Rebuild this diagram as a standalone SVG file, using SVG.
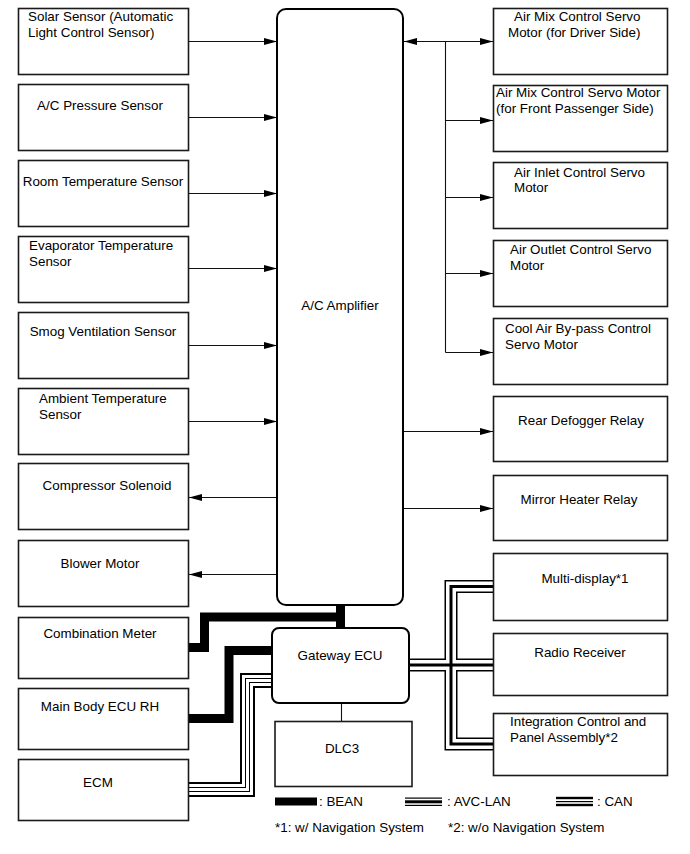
<svg xmlns="http://www.w3.org/2000/svg" width="690" height="854" viewBox="0 0 690 854">
<style>
.box{fill:#fff;stroke:#1a1a1a;stroke-width:1.6}
.amp{fill:#fff;stroke:#000;stroke-width:2}
text{font-family:"Liberation Sans",Arial,Helvetica,sans-serif;font-size:13.4px;fill:#000}
.c{text-anchor:middle}
.ln{fill:none;stroke:#111;stroke-width:1.1}
.bean{fill:none;stroke:#000;stroke-width:9;stroke-linejoin:miter}
.a1{fill:none;stroke:#000;stroke-width:13;stroke-linejoin:miter}
.a2{fill:none;stroke:#fff;stroke-width:10;stroke-linejoin:miter}
.a3{fill:none;stroke:#000;stroke-width:3;stroke-linejoin:miter}
.c1{fill:none;stroke:#000;stroke-width:15;stroke-linejoin:miter}
.c2{fill:none;stroke:#fff;stroke-width:11;stroke-linejoin:miter}
.c3{fill:none;stroke:#000;stroke-width:5;stroke-linejoin:miter}
.c4{fill:none;stroke:#fff;stroke-width:3;stroke-linejoin:miter}
</style>
<defs>
<marker id="ah" markerUnits="userSpaceOnUse" viewBox="0 0 13 7" refX="13" refY="3.5" markerWidth="13" markerHeight="7" orient="auto-start-reverse">
<path d="M0,0 L13,3.5 L0,7 z" fill="#000"/>
</marker>
</defs>

<g id="connectors">
<!-- inputs to amplifier -->
<path class="ln" d="M188,41.5 H277" marker-end="url(#ah)"/>
<path class="ln" d="M188,117.5 H277" marker-end="url(#ah)"/>
<path class="ln" d="M188,193.5 H277" marker-end="url(#ah)"/>
<path class="ln" d="M188,268.5 H277" marker-end="url(#ah)"/>
<path class="ln" d="M188,345.5 H277" marker-end="url(#ah)"/>
<path class="ln" d="M188,421.5 H277" marker-end="url(#ah)"/>
<!-- outputs left -->
<path class="ln" d="M277,497.5 H189" marker-end="url(#ah)"/>
<path class="ln" d="M277,574.5 H189" marker-end="url(#ah)"/>
<!-- right side servo bus -->
<path class="ln" d="M404,41.5 H493" marker-start="url(#ah)" marker-end="url(#ah)"/>
<path class="ln" d="M445.5,41.5 V352.5"/>
<path class="ln" d="M445.5,120.5 H493" marker-end="url(#ah)"/>
<path class="ln" d="M445.5,197.5 H493" marker-end="url(#ah)"/>
<path class="ln" d="M445.5,273.5 H493" marker-end="url(#ah)"/>
<path class="ln" d="M445.5,352.5 H493" marker-end="url(#ah)"/>
<path class="ln" d="M404,431.5 H493" marker-end="url(#ah)"/>
<path class="ln" d="M404,508.5 H493" marker-end="url(#ah)"/>
<!-- gateway to DLC3 -->
<path class="ln" d="M341.5,703 V722"/>
<!-- BEAN -->
<path class="bean" d="M185,647.5 H204.5 V617 H340.5"/>
<path class="bean" d="M340.5,600 V632"/>
<path class="bean" d="M185,718.5 H229 V650.5 H276"/>
<!-- CAN (ECM) -->
<path class="c1" d="M185,789.5 H247.5 V680.5 H276"/>
<path class="c2" d="M185,789.5 H247.5 V680.5 H276"/>
<path class="c3" d="M185,789.5 H247.5 V680.5 H276"/>
<path class="c4" d="M185,789.5 H247.5 V680.5 H276"/>
<!-- AVC-LAN (right) -->
<path class="a1" d="M405,665 H497"/>
<path class="a1" d="M497,586.5 H451 V744 H497"/>
<path class="a2" d="M405,665 H497"/>
<path class="a2" d="M497,586.5 H451 V744 H497"/>
<path class="a3" d="M405,665 H497"/>
<path class="a3" d="M497,586.5 H451 V744 H497"/>
</g>

<g id="solar"><rect class="box" x="18.5" y="8.5" width="170" height="66"/><text x="28" y="21">Solar Sensor (Automatic</text><text x="28" y="37">Light Control Sensor)</text></g>
<g id="ac-pressure"><rect class="box" x="18.5" y="84.5" width="170" height="66"/><text class="c" x="100" y="110">A/C Pressure Sensor</text></g>
<g id="room-temp"><rect class="box" x="18.5" y="160.5" width="170" height="66"/><text class="c" x="103" y="186">Room Temperature Sensor</text></g>
<g id="evaporator"><rect class="box" x="18.5" y="236.5" width="170" height="66"/><text x="29" y="250">Evaporator Temperature</text><text x="29" y="266">Sensor</text></g>
<g id="smog"><rect class="box" x="18.5" y="312.5" width="170" height="66"/><text class="c" x="103" y="336">Smog Ventilation Sensor</text></g>
<g id="ambient"><rect class="box" x="18.5" y="388.5" width="170" height="66"/><text x="39" y="403">Ambient Temperature</text><text x="39" y="419">Sensor</text></g>
<g id="compressor"><rect class="box" x="18.5" y="463.5" width="170" height="66"/><text class="c" x="107" y="490">Compressor Solenoid</text></g>
<g id="blower"><rect class="box" x="18.5" y="540.5" width="170" height="66"/><text class="c" x="100" y="568">Blower Motor</text></g>
<g id="combination-meter"><rect class="box" x="18.5" y="617.5" width="170" height="61"/><text class="c" x="100" y="638">Combination Meter</text></g>
<g id="main-body-ecu"><rect class="box" x="18.5" y="688.5" width="170" height="61"/><text class="c" x="100" y="711">Main Body ECU RH</text></g>
<g id="ecm"><rect class="box" x="18.5" y="759.5" width="170" height="61"/><text class="c" x="98" y="787">ECM</text></g>

<g id="ac-amplifier"><rect class="amp" x="277" y="9" width="126" height="596" rx="9"/><text class="c" x="340" y="310">A/C Amplifier</text></g>
<g id="gateway-ecu"><rect class="amp" x="272" y="628" width="137" height="75" rx="7"/><text class="c" x="340" y="660">Gateway ECU</text></g>
<g id="dlc3"><rect class="box" x="275" y="721.5" width="137" height="65"/><text class="c" x="342" y="753">DLC3</text></g>

<g id="air-mix-driver"><rect class="box" x="493.5" y="8.5" width="174" height="66"/><text x="514" y="21">Air Mix Control Servo</text><text x="508" y="37">Motor (for Driver Side)</text></g>
<g id="air-mix-passenger"><rect class="box" x="493.5" y="85.5" width="174" height="66"/><text x="496" y="97">Air Mix Control Servo Motor</text><text x="496" y="113">(for Front Passenger Side)</text></g>
<g id="air-inlet"><rect class="box" x="493.5" y="162.5" width="174" height="66"/><text x="514" y="177">Air Inlet Control Servo</text><text x="514" y="192">Motor</text></g>
<g id="air-outlet"><rect class="box" x="493.5" y="240.5" width="174" height="66"/><text x="510" y="254">Air Outlet Control Servo</text><text x="510" y="270">Motor</text></g>
<g id="cool-air"><rect class="box" x="493.5" y="318.5" width="174" height="66"/><text x="505" y="333">Cool Air By-pass Control</text><text x="505" y="349">Servo Motor</text></g>
<g id="rear-defogger"><rect class="box" x="493.5" y="396.5" width="174" height="65"/><text class="c" x="581" y="425">Rear Defogger Relay</text></g>
<g id="mirror-heater"><rect class="box" x="493.5" y="475.5" width="174" height="65"/><text class="c" x="579" y="504">Mirror Heater Relay</text></g>
<g id="multi-display"><rect class="box" x="493.5" y="553.5" width="174" height="67"/><text class="c" x="585" y="583">Multi-display*1</text></g>
<g id="radio-receiver"><rect class="box" x="493.5" y="633.5" width="174" height="62"/><text class="c" x="580" y="657">Radio Receiver</text></g>
<g id="integration-panel"><rect class="box" x="493.5" y="713.5" width="174" height="62"/><text x="510" y="726">Integration Control and</text><text x="510" y="742">Panel Assembly*2</text></g>

<g id="legend">
<rect x="275" y="797.5" width="42" height="8" fill="#000"/>
<text x="319" y="806">: BEAN</text>
<rect x="405" y="797.5" width="37" height="1.2" fill="#000"/>
<rect x="405" y="800.3" width="37" height="3" fill="#000"/>
<rect x="405" y="804.8" width="37" height="1.2" fill="#000"/>
<text x="447" y="806">: AVC-LAN</text>
<rect x="556" y="796.8" width="37" height="2.4" fill="#000"/>
<rect x="556" y="801" width="37" height="1.2" fill="#000"/>
<rect x="556" y="803.8" width="37" height="2.4" fill="#000"/>
<text x="597" y="806">: CAN</text>
<text x="275" y="832">*1: w/ Navigation System</text>
<text x="448" y="832">*2: w/o Navigation System</text>
</g>
</svg>
